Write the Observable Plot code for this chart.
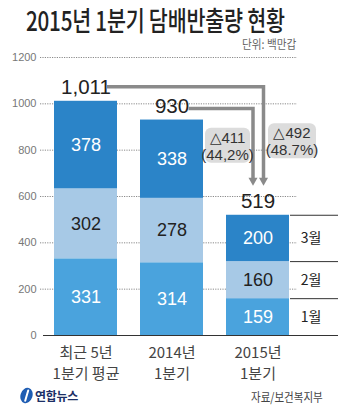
<!DOCTYPE html>
<html><head><meta charset="utf-8">
<script src="https://cdn.jsdelivr.net/npm/d3@7"></script>
<script src="https://cdn.jsdelivr.net/npm/@observablehq/plot@0.6"></script>
<style>
body{margin:0;background:#fff;}
#wrap{position:relative;width:359px;height:410px;overflow:hidden;font-family:"Noto Sans CJK KR","Noto Sans",sans-serif;}
#chart{position:absolute;left:0;top:0;}
#title{position:absolute;left:26px;top:6px;font-size:27px;line-height:27px;font-weight:500;color:#222;transform:scaleX(0.765);transform-origin:0 0;white-space:nowrap;letter-spacing:-0.3px;}
#unit{position:absolute;left:242px;top:37px;font-size:12.5px;line-height:14px;color:#666;white-space:nowrap;transform:scaleX(0.85);transform-origin:0 0;}
#logo{position:absolute;left:19px;top:387px;display:flex;align-items:center;gap:1px;}
#logo span{font-size:12px;font-weight:700;color:#1c2f66;letter-spacing:-0.3px;line-height:16px;}
#source{position:absolute;left:251px;top:389px;font-size:12.5px;line-height:16px;color:#444;white-space:nowrap;transform:scaleX(0.84);transform-origin:0 0;}
</style>
</head><body>
<div id="wrap">
  <div id="chart"></div>
  <div id="title">2015년 1분기 담배반출량 현황</div>
  <div id="unit">단위: 백만갑</div>
  <div id="logo"><svg width="15" height="17" viewBox="0 0 15 17"><ellipse cx="7.5" cy="8.5" rx="6" ry="7.8" transform="rotate(18 7.5 8.5)" fill="#1f5db3"/><path d="M9.2 3.5 L6.2 13.8" stroke="#fff" stroke-width="2" stroke-linecap="round"/></svg><span>연합뉴스</span></div>
  <div id="source">자료/보건복지부</div>
</div>
<script>
// ---- data ----
const categories = ["최근 5년\n1분기 평균", "2014년\n1분기", "2015년\n1분기"];
const months = ["1월", "2월", "3월"];
const jan = [331, 314, 159];
const feb = [302, 278, 160];
const mar = [378, 338, 200];
const totals = [1011, 930, 519];
const yTicks = [0, 200, 400, 600, 800, 1000, 1200];
const changeLabels = ["△411\n(44,2%)", "△492\n(48.7%)"];
const monthColors = ["#4aa3dd", "#a7c9e6", "#2b84c8"];

const narrow = '"Liberation Sans Narrow","Arial Narrow","Liberation Sans",sans-serif';
const kr = '"Noto Sans CJK KR","Noto Sans",sans-serif';

const rows = [];
categories.forEach((c, i) => {
  let base = 0;
  [jan, feb, mar].forEach((s, j) => {
    rows.push({cat: c, month: months[j], value: s[i], mid: base + s[i] / 2, top: base + s[i]});
    base += s[i];
  });
});
const totalRows = categories.map((c, i) => ({cat: c, total: totals[i]}));
const lastRows = rows.filter(d => d.cat === categories[2]);

function annotations(index, scales) {
  const x = scales.x, y = scales.y;
  const bw = x.bandwidth ? x.bandwidth() : 63;
  const cx = i => x(categories[i]) + bw / 2;
  const g = d3.create("svg:g");
  const grey = "#8a8a8a";
  const tipY = y(totals[2]) - 29;
  const baseY = tipY - 8;
  const arrows = [
    {x0: cx(0) + 21.5, y0: y(totals[0]) - 14, x1: cx(2) + 6},
    {x0: cx(1) + 17, y0: y(totals[1]) - 11, x1: cx(2) - 4.5}
  ];
  for (const a of arrows) {
    g.append("path")
      .attr("d", `M${a.x0},${a.y0}H${a.x1}V${baseY + 1}`)
      .attr("fill", "none").attr("stroke", grey).attr("stroke-width", 3.5);
    g.append("path")
      .attr("d", `M${a.x1 - 4.5},${baseY}L${a.x1 + 4.5},${baseY}L${a.x1},${tipY}Z`)
      .attr("fill", grey);
  }
  const boxes = [
    {cx: x(categories[1]) + bw + 24.5, cy: y(800) - 4.5, w: 45, h: 35},
    {cx: cx(2) + 34.5, cy: y(800) - 9, w: 48, h: 35}
  ];
  boxes.forEach((b, i) => {
    g.append("rect")
      .attr("x", b.cx - b.w / 2).attr("y", b.cy - b.h / 2)
      .attr("width", b.w).attr("height", b.h).attr("rx", 6)
      .attr("fill", "#dcdcdc");
    const lines = changeLabels[i].split("\n");
    lines.forEach((t, k) => {
      g.append("text")
        .attr("x", b.cx).attr("y", b.cy + (k === 0 ? -8 : 9))
        .attr("text-anchor", "middle").attr("dominant-baseline", "central")
        .attr("font-family", narrow).attr("font-size", 15)
        .attr("fill", "#333").text(t);
    });
  });
  return g.node();
}

const chart = Plot.plot({
  width: 359, height: 410,
  marginTop: 57, marginBottom: 75, marginLeft: 40, marginRight: 21,
  x: {domain: categories, range: [54, 289], paddingInner: 0.268, paddingOuter: 0, align: 0, axis: null},
  y: {domain: [0, 1200], axis: null},
  color: {type: "ordinal", domain: months, range: monthColors},
  style: {fontFamily: narrow, background: "transparent", overflow: "visible"},
  marks: [
    Plot.ruleY(yTicks.filter(d => d > 0), {y: d => d, stroke: "#8a8a8a", strokeDasharray: "1.2,1.2", insetRight: 41}),
    Plot.text(yTicks, {y: d => d, text: d => String(d), frameAnchor: "left", dx: -4, textAnchor: "end", fill: "#777", fontSize: 11}),
    Plot.barY(rows, {x: "cat", y: "value", fill: "month"}),
    Plot.text(rows.filter(d => d.month !== "2월"), {x: "cat", y: "mid", text: d => String(d.value), fill: "#fff", fontSize: 18}),
    Plot.text(rows.filter(d => d.month === "2월"), {x: "cat", y: "mid", text: d => String(d.value), fill: "#222", fontSize: 18}),
    Plot.text(totalRows, {x: "cat", y: "total", text: d => d3.format(",")(d.total), dy: -14, fill: "#222", fontSize: 20.5}),
    Plot.ruleY(lastRows, {y: "top", insetLeft: 250, stroke: "#333", strokeWidth: 1}),
    Plot.text(lastRows, {x: "cat", y: "mid", text: "month", dx: 53, fill: "#222", fontSize: 14, fontFamily: kr}),
    Plot.ruleY([0], {y: d => d, insetLeft: 3, stroke: "#333", strokeWidth: 1.2}),
    Plot.text(categories, {x: d => d, y: () => 0, text: d => d, dy: 26, lineAnchor: "middle", lineHeight: 1.45, fontSize: 15, fill: "#444", fontFamily: kr}),
    annotations
  ]
});
document.getElementById("chart").appendChild(chart);
</script>
</body></html>
